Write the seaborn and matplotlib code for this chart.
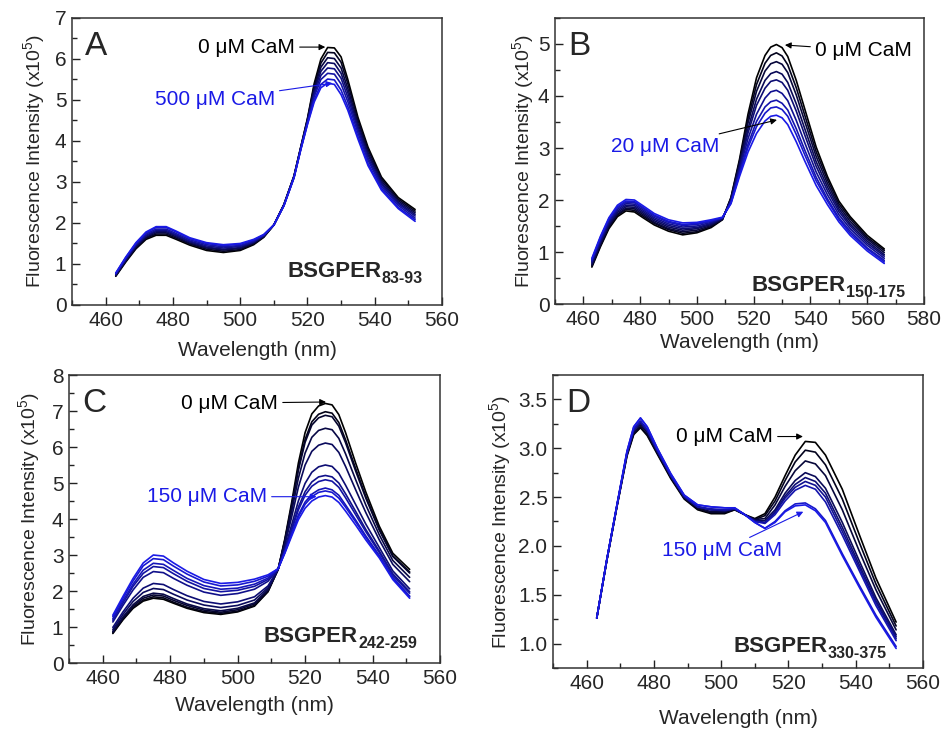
import numpy as np
import pandas as pd
import seaborn as sns
import matplotlib.pyplot as plt
from matplotlib.ticker import MultipleLocator, FormatStrFormatter

sns.set_theme(style="white")
plt.rcParams['font.family'] = ['Liberation Sans', 'DejaVu Sans']
plt.rcParams['mathtext.fontset'] = 'custom'
plt.rcParams['mathtext.rm'] = 'Liberation Sans'
plt.rcParams['mathtext.bf'] = 'Liberation Sans:bold'
plt.rcParams['mathtext.it'] = 'Liberation Sans:italic'

BLUE = "#1a1ae6"

# ---- panel A: BSGPER83-93, 0 -> 500 uM CaM (x10^5 counts)
wl_a = [463, 466, 469, 472, 475, 478, 481, 485, 490, 495, 500, 504, 507, 510, 513,
        516, 518, 520, 522, 524, 526, 528, 530, 532, 535, 538, 542, 547, 552]
spectra_a = [
    [0.70, 1.05, 1.37, 1.60, 1.70, 1.70, 1.60, 1.46, 1.33, 1.28, 1.33, 1.47, 1.65, 1.95, 2.45, 3.15, 3.85, 4.55, 5.40, 6.00, 6.28, 6.27, 6.05, 5.50, 4.58, 3.85, 3.12, 2.62, 2.33],
    [0.71, 1.07, 1.39, 1.63, 1.73, 1.73, 1.63, 1.49, 1.36, 1.31, 1.35, 1.49, 1.66, 1.95, 2.45, 3.14, 3.84, 4.53, 5.34, 5.90, 6.16, 6.15, 5.92, 5.40, 4.51, 3.79, 3.08, 2.58, 2.29],
    [0.72, 1.09, 1.41, 1.65, 1.76, 1.76, 1.66, 1.51, 1.39, 1.34, 1.38, 1.51, 1.67, 1.95, 2.44, 3.14, 3.83, 4.51, 5.27, 5.80, 6.03, 6.01, 5.78, 5.28, 4.43, 3.72, 3.03, 2.54, 2.25],
    [0.73, 1.10, 1.44, 1.68, 1.79, 1.79, 1.69, 1.54, 1.41, 1.36, 1.40, 1.53, 1.68, 1.95, 2.44, 3.13, 3.82, 4.49, 5.21, 5.70, 5.91, 5.89, 5.65, 5.18, 4.35, 3.66, 2.98, 2.50, 2.21],
    [0.75, 1.12, 1.46, 1.70, 1.82, 1.82, 1.71, 1.56, 1.44, 1.39, 1.43, 1.54, 1.69, 1.95, 2.43, 3.12, 3.81, 4.46, 5.14, 5.60, 5.78, 5.76, 5.53, 5.07, 4.28, 3.59, 2.94, 2.47, 2.17],
    [0.76, 1.14, 1.48, 1.73, 1.85, 1.85, 1.74, 1.59, 1.47, 1.42, 1.45, 1.56, 1.70, 1.95, 2.43, 3.11, 3.80, 4.44, 5.08, 5.50, 5.65, 5.63, 5.39, 4.96, 4.20, 3.53, 2.89, 2.43, 2.12],
    [0.77, 1.16, 1.50, 1.76, 1.89, 1.89, 1.78, 1.62, 1.50, 1.45, 1.48, 1.58, 1.71, 1.95, 2.42, 3.11, 3.79, 4.42, 5.00, 5.38, 5.51, 5.49, 5.24, 4.84, 4.11, 3.45, 2.84, 2.38, 2.08],
    [0.78, 1.17, 1.52, 1.78, 1.91, 1.91, 1.80, 1.64, 1.52, 1.47, 1.50, 1.60, 1.72, 1.95, 2.42, 3.10, 3.78, 4.40, 4.95, 5.30, 5.41, 5.38, 5.13, 4.75, 4.05, 3.40, 2.80, 2.35, 2.04],
]

# ---- panel B: BSGPER150-175, 0 -> 20 uM CaM
wl_b = [463, 466, 469, 472, 475, 478, 481, 485, 490, 495, 500, 505, 509, 512, 515,
        518, 521, 524, 526, 528, 530, 532, 535, 538, 542, 546, 550, 554, 560, 566]
spectra_b = [
    [0.71, 1.10, 1.45, 1.68, 1.79, 1.77, 1.66, 1.52, 1.40, 1.33, 1.37, 1.47, 1.62, 2.05, 2.78, 3.65, 4.35, 4.78, 4.94, 4.99, 4.93, 4.76, 4.30, 3.75, 3.02, 2.45, 1.98, 1.68, 1.32, 1.06],
    [0.73, 1.12, 1.48, 1.71, 1.82, 1.80, 1.69, 1.55, 1.43, 1.36, 1.39, 1.49, 1.63, 2.04, 2.74, 3.56, 4.22, 4.63, 4.78, 4.83, 4.77, 4.60, 4.16, 3.63, 2.93, 2.39, 1.93, 1.64, 1.28, 1.03],
    [0.75, 1.15, 1.50, 1.73, 1.84, 1.83, 1.72, 1.57, 1.45, 1.39, 1.42, 1.51, 1.63, 2.02, 2.70, 3.48, 4.09, 4.48, 4.62, 4.66, 4.61, 4.45, 4.02, 3.51, 2.84, 2.32, 1.88, 1.59, 1.25, 0.99],
    [0.77, 1.18, 1.53, 1.76, 1.87, 1.86, 1.75, 1.60, 1.48, 1.42, 1.45, 1.53, 1.64, 2.00, 2.65, 3.37, 3.94, 4.30, 4.43, 4.47, 4.42, 4.26, 3.85, 3.37, 2.74, 2.25, 1.83, 1.54, 1.21, 0.95],
    [0.80, 1.20, 1.56, 1.79, 1.90, 1.89, 1.78, 1.63, 1.51, 1.45, 1.47, 1.55, 1.65, 1.99, 2.62, 3.29, 3.82, 4.15, 4.28, 4.31, 4.26, 4.11, 3.71, 3.25, 2.65, 2.18, 1.78, 1.50, 1.17, 0.92],
    [0.82, 1.23, 1.59, 1.82, 1.93, 1.92, 1.81, 1.66, 1.54, 1.48, 1.50, 1.57, 1.65, 1.97, 2.57, 3.18, 3.65, 3.96, 4.08, 4.11, 4.05, 3.91, 3.53, 3.10, 2.54, 2.10, 1.72, 1.45, 1.13, 0.88],
    [0.84, 1.26, 1.62, 1.85, 1.96, 1.95, 1.84, 1.69, 1.57, 1.51, 1.53, 1.59, 1.66, 1.96, 2.52, 3.07, 3.51, 3.79, 3.89, 3.92, 3.86, 3.73, 3.37, 2.96, 2.44, 2.02, 1.66, 1.40, 1.08, 0.84],
    [0.86, 1.28, 1.64, 1.87, 1.98, 1.97, 1.86, 1.71, 1.59, 1.53, 1.55, 1.60, 1.66, 1.94, 2.49, 3.01, 3.41, 3.67, 3.77, 3.79, 3.74, 3.61, 3.26, 2.87, 2.37, 1.98, 1.63, 1.36, 1.06, 0.81],
    [0.88, 1.30, 1.66, 1.90, 2.01, 2.00, 1.89, 1.74, 1.62, 1.56, 1.57, 1.62, 1.67, 1.93, 2.45, 2.92, 3.28, 3.52, 3.61, 3.63, 3.58, 3.45, 3.12, 2.75, 2.28, 1.91, 1.58, 1.32, 1.02, 0.78],
]

# ---- panel C: BSGPER242-259, 0 -> 150 uM CaM
wl_c = [463, 466, 469, 472, 475, 478, 481, 485, 490, 495, 500, 505, 509, 512, 514,
        516, 518, 520, 522, 524, 526, 528, 530, 532, 535, 538, 542, 546, 551]
spectra_c = [
    [0.82, 1.20, 1.52, 1.72, 1.80, 1.77, 1.66, 1.52, 1.40, 1.35, 1.42, 1.58, 1.98, 2.60, 3.45, 4.45, 5.55, 6.40, 6.92, 7.14, 7.21, 7.17, 6.90, 6.40, 5.55, 4.75, 3.80, 3.05, 2.60],
    [0.84, 1.22, 1.54, 1.75, 1.84, 1.81, 1.69, 1.55, 1.43, 1.38, 1.44, 1.60, 1.99, 2.60, 3.41, 4.37, 5.41, 6.21, 6.70, 6.91, 6.98, 6.94, 6.68, 6.20, 5.40, 4.63, 3.72, 2.98, 2.53],
    [0.86, 1.25, 1.58, 1.80, 1.89, 1.86, 1.74, 1.60, 1.47, 1.41, 1.48, 1.64, 2.02, 2.60, 3.40, 4.33, 5.35, 6.13, 6.61, 6.81, 6.88, 6.84, 6.58, 6.12, 5.33, 4.58, 3.69, 2.96, 2.50],
    [0.88, 1.28, 1.62, 1.85, 1.94, 1.91, 1.79, 1.64, 1.51, 1.45, 1.52, 1.67, 2.04, 2.60, 3.34, 4.20, 5.13, 5.83, 6.27, 6.46, 6.52, 6.48, 6.24, 5.81, 5.09, 4.39, 3.56, 2.85, 2.38],
    [0.93, 1.35, 1.71, 1.96, 2.07, 2.04, 1.91, 1.75, 1.61, 1.54, 1.60, 1.75, 2.09, 2.60, 3.28, 4.05, 4.88, 5.50, 5.88, 6.05, 6.11, 6.07, 5.85, 5.46, 4.81, 4.18, 3.42, 2.74, 2.26],
    [0.99, 1.42, 1.80, 2.08, 2.21, 2.18, 2.04, 1.87, 1.71, 1.64, 1.70, 1.84, 2.14, 2.61, 3.18, 3.83, 4.50, 4.99, 5.30, 5.45, 5.50, 5.46, 5.27, 4.94, 4.40, 3.86, 3.21, 2.56, 2.06],
    [1.14, 1.60, 2.03, 2.38, 2.54, 2.51, 2.35, 2.16, 1.97, 1.88, 1.93, 2.05, 2.27, 2.61, 3.14, 3.72, 4.33, 4.76, 5.03, 5.17, 5.21, 5.17, 5.00, 4.70, 4.21, 3.71, 3.11, 2.48, 1.98],
    [1.19, 1.67, 2.13, 2.49, 2.68, 2.65, 2.48, 2.27, 2.07, 1.98, 2.02, 2.13, 2.32, 2.61, 3.12, 3.68, 4.25, 4.66, 4.91, 5.04, 5.09, 5.05, 4.88, 4.59, 4.12, 3.65, 3.07, 2.44, 1.94],
    [1.23, 1.73, 2.19, 2.58, 2.77, 2.74, 2.57, 2.35, 2.15, 2.05, 2.08, 2.19, 2.36, 2.62, 3.08, 3.59, 4.11, 4.47, 4.69, 4.81, 4.86, 4.81, 4.66, 4.39, 3.97, 3.53, 2.99, 2.38, 1.86],
    [1.29, 1.80, 2.28, 2.70, 2.90, 2.87, 2.69, 2.47, 2.25, 2.14, 2.17, 2.27, 2.41, 2.62, 3.07, 3.57, 4.06, 4.41, 4.62, 4.74, 4.78, 4.74, 4.58, 4.33, 3.92, 3.49, 2.96, 2.36, 1.84],
    [1.33, 1.85, 2.35, 2.78, 3.00, 2.97, 2.78, 2.55, 2.32, 2.21, 2.24, 2.33, 2.45, 2.62, 3.05, 3.52, 3.98, 4.30, 4.50, 4.61, 4.65, 4.61, 4.46, 4.22, 3.83, 3.42, 2.92, 2.32, 1.80],
]

# ---- panel D: BSGPER330-375, 0 -> 150 uM CaM
wl_d = [463, 466, 469, 472, 474, 476, 478, 481, 485, 489, 493, 497, 501, 504,
        507, 510, 513, 516, 519, 522, 525, 528, 531, 536, 541, 546, 552]
spectra_d = [
    [1.26, 1.85, 2.40, 2.92, 3.14, 3.21, 3.13, 2.94, 2.69, 2.48, 2.37, 2.33, 2.33, 2.37, 2.32, 2.28, 2.33, 2.50, 2.72, 2.93, 3.07, 3.06, 2.93, 2.58, 2.12, 1.67, 1.22],
    [1.26, 1.85, 2.40, 2.93, 3.15, 3.22, 3.14, 2.95, 2.70, 2.49, 2.38, 2.34, 2.34, 2.37, 2.32, 2.27, 2.31, 2.46, 2.67, 2.86, 2.98, 2.96, 2.83, 2.48, 2.04, 1.61, 1.18],
    [1.26, 1.85, 2.41, 2.94, 3.16, 3.24, 3.16, 2.96, 2.71, 2.49, 2.39, 2.35, 2.35, 2.38, 2.32, 2.27, 2.28, 2.42, 2.61, 2.77, 2.87, 2.84, 2.72, 2.37, 1.95, 1.55, 1.14],
    [1.26, 1.86, 2.41, 2.95, 3.18, 3.26, 3.18, 2.97, 2.72, 2.50, 2.40, 2.37, 2.36, 2.38, 2.32, 2.26, 2.26, 2.37, 2.54, 2.67, 2.75, 2.71, 2.59, 2.24, 1.85, 1.47, 1.09],
    [1.26, 1.86, 2.41, 2.95, 3.19, 3.27, 3.18, 2.97, 2.72, 2.50, 2.40, 2.37, 2.36, 2.38, 2.32, 2.26, 2.24, 2.35, 2.51, 2.63, 2.70, 2.66, 2.54, 2.19, 1.81, 1.44, 1.07],
    [1.26, 1.86, 2.41, 2.95, 3.19, 3.27, 3.19, 2.98, 2.72, 2.51, 2.40, 2.37, 2.37, 2.38, 2.32, 2.25, 2.24, 2.34, 2.49, 2.60, 2.66, 2.62, 2.50, 2.15, 1.78, 1.42, 1.05],
    [1.26, 1.86, 2.41, 2.95, 3.20, 3.28, 3.19, 2.98, 2.72, 2.51, 2.40, 2.38, 2.37, 2.38, 2.32, 2.25, 2.23, 2.32, 2.46, 2.57, 2.62, 2.58, 2.45, 2.11, 1.75, 1.39, 1.03],
    [1.26, 1.86, 2.42, 2.97, 3.22, 3.31, 3.22, 3.00, 2.74, 2.52, 2.42, 2.40, 2.39, 2.39, 2.32, 2.24, 2.18, 2.25, 2.36, 2.43, 2.44, 2.38, 2.26, 1.92, 1.60, 1.29, 0.97],
    [1.26, 1.86, 2.42, 2.97, 3.22, 3.31, 3.22, 3.00, 2.74, 2.52, 2.42, 2.40, 2.39, 2.39, 2.32, 2.24, 2.18, 2.24, 2.35, 2.41, 2.42, 2.36, 2.24, 1.90, 1.58, 1.27, 0.95],
]


def long_df(wl, spectra):
    rows = []
    for i, ys in enumerate(spectra):
        for x, y in zip(wl, ys):
            rows.append({"wl": x, "val": y, "curve": i})
    return pd.DataFrame(rows)


def draw(ax, wl, spectra, xlim, ylim, xmaj, ymaj, yfmt="%d", xpad=3, ypad=4):
    df = long_df(wl, spectra)
    pal = sns.blend_palette(["#000000", BLUE], len(spectra))
    sns.lineplot(data=df, x="wl", y="val", hue="curve", palette=pal,
                 legend=False, ax=ax, lw=1.2, estimator=None, sort=False)
    for ln in ax.get_lines():
        ln.set_solid_joinstyle("round")
    ax.set_xlim(*xlim)
    ax.set_ylim(*ylim)
    ax.xaxis.set_major_locator(MultipleLocator(xmaj))
    ax.xaxis.set_minor_locator(MultipleLocator(xmaj / 2))
    ax.yaxis.set_major_locator(MultipleLocator(ymaj))
    ax.yaxis.set_minor_locator(MultipleLocator(ymaj / 2))
    ax.yaxis.set_major_formatter(FormatStrFormatter(yfmt))
    ax.tick_params(which="both", direction="in", bottom=True, left=True,
                   top=False, right=False, color="#222222", labelsize=15,
                   pad=4)
    ax.tick_params(which="major", length=6, width=1)
    ax.tick_params(which="minor", length=3.5, width=1)
    for s in ax.spines.values():
        s.set_color("#333333")
        s.set_linewidth(1.1)
    ax.set_xlabel("Wavelength (nm)", fontsize=15, labelpad=xpad)
    ax.set_ylabel("Fluorescence Intensity (x10$^5$)", fontsize=14, labelpad=ypad)


def peptide_label(ax, x, y, main, sub):
    # subscript placed first (right aligned), main name hung on its left side
    t_sub = ax.text(x, y, sub, ha="right", va="baseline", fontsize=11.5,
                    fontweight="bold")
    ax.annotate(main, xy=(0, 0), xycoords=t_sub, xytext=(-0.3, 6.5),
                textcoords="offset points", ha="right", va="baseline",
                fontsize=16, fontweight="bold")


fig = plt.figure(figsize=(9.44, 7.31), dpi=100)
ax_a = fig.add_axes([0.0763, 0.5828, 0.3919, 0.3926])
ax_b = fig.add_axes([0.5879, 0.5841, 0.3909, 0.3913])
ax_c = fig.add_axes([0.0731, 0.0930, 0.3930, 0.3940])
ax_d = fig.add_axes([0.5858, 0.0862, 0.3920, 0.4008])

draw(ax_a, wl_a, spectra_a, (450, 560), (0, 7), 20, 1, xpad=8, ypad=5.5)
draw(ax_b, wl_b, spectra_b, (450, 580), (0, 5.5), 20, 1, xpad=3, ypad=1.5)
draw(ax_c, wl_c, spectra_c, (450, 560), (0, 8), 20, 1, xpad=6, ypad=7)
draw(ax_d, wl_d, spectra_d, (450, 560), (0.75, 3.75), 20, 0.5, "%.1f",
     xpad=12, ypad=4)

arrow_k = dict(arrowstyle="-|>", color="black", lw=0.8, mutation_scale=9,
               shrinkA=1, shrinkB=0)
arrow_b = dict(arrowstyle="-|>", color=BLUE, lw=0.8, mutation_scale=9,
               shrinkA=1, shrinkB=0)
txt = dict(fontsize=15, va="center")

# panel A
ax_a.text(0.035, 0.955, "A", transform=ax_a.transAxes, fontsize=24,
          va="top", ha="left")
ax_a.annotate("0 μM CaM", xy=(525.3, 6.29), xytext=(516.3, 6.29),
              ha="right", color="black", arrowprops=arrow_k, **txt)
ax_a.annotate("500 μM CaM", xy=(527.4, 5.41), xytext=(510.3, 5.0),
              ha="right", color=BLUE, arrowprops=arrow_b, **txt)
peptide_label(ax_a, 554.3, 0.54, "BSGPER", "83-93")

# panel B
ax_b.text(0.035, 0.955, "B", transform=ax_b.transAxes, fontsize=24,
          va="top", ha="left")
ax_b.annotate("0 μM CaM", xy=(531.0, 4.98), xytext=(541.6, 4.88),
              ha="left", color="black", arrowprops=arrow_k, **txt)
ax_b.annotate("20 μM CaM", xy=(528.2, 3.54), xytext=(507.8, 3.02),
              ha="right", color=BLUE, arrowprops=arrow_k, **txt)
peptide_label(ax_b, 573.3, 0.135, "BSGPER", "150-175")

# panel C
ax_c.text(0.035, 0.955, "C", transform=ax_c.transAxes, fontsize=24,
          va="top", ha="left")
ax_c.annotate("0 μM CaM", xy=(526.2, 7.25), xytext=(512.0, 7.22),
              ha="right", color="black", arrowprops=arrow_k, **txt)
ax_c.annotate("150 μM CaM", xy=(523.4, 4.62), xytext=(508.7, 4.62),
              ha="right", color=BLUE, arrowprops=arrow_b, **txt)
peptide_label(ax_c, 553.2, 0.42, "BSGPER", "242-259")

# panel D
ax_d.text(0.035, 0.955, "D", transform=ax_d.transAxes, fontsize=24,
          va="top", ha="left")
ax_d.annotate("0 μM CaM", xy=(524.3, 3.12), xytext=(515.4, 3.12),
              ha="right", color="black", arrowprops=arrow_k, **txt)
ax_d.annotate("150 μM CaM", xy=(524.4, 2.35), xytext=(518.0, 1.95),
              ha="right", color=BLUE, arrowprops=arrow_b, **txt)
peptide_label(ax_d, 549.3, 0.85, "BSGPER", "330-375")

fig.savefig("out.png", dpi=100)
